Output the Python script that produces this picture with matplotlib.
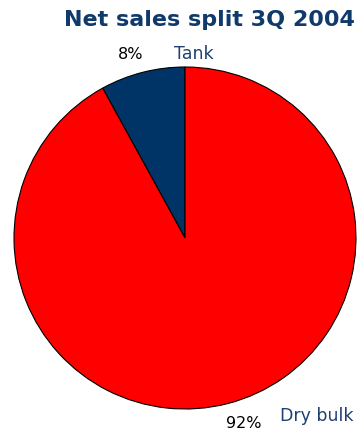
import matplotlib
matplotlib.use('Agg')
import matplotlib.pyplot as plt

# data
segments = ['Tank', 'Dry bulk']
shares = [8, 92]
colours = ['#003366', '#ff0000']

navy = '#1f4070'

fig = plt.figure(figsize=(3.61, 4.30), dpi=100)
ax = fig.add_axes([14/361, 21/430, 342/361, 342/430])

ax.pie(shares, colors=colours, startangle=90, counterclock=True,
       wedgeprops=dict(edgecolor='black', linewidth=0.8))
ax.set_xlim(-1, 1)
ax.set_ylim(-1, 1)
ax.set_aspect('equal')
ax.axis('off')

# labels
ax.text(-0.316, 1.076, '%d%%' % shares[0], ha='center', va='center', fontsize=11.5, color='black', clip_on=False)
ax.text(0.053, 1.076, segments[0], ha='center', va='center', fontsize=12.5, color=navy, clip_on=False)
ax.text(0.345, -1.082, '%d%%' % shares[1], ha='center', va='center', fontsize=11.5, color='black', clip_on=False)
ax.text(0.77, -1.04, segments[1], ha='center', va='center', fontsize=12.5, color=navy, clip_on=False)

fig.text(209/361, 1 - 20/430, 'Net sales split 3Q 2004', ha='center', va='center',
         fontsize=16, fontweight='bold', color='#0f3a6b')

fig.savefig('out.png', dpi=100)
